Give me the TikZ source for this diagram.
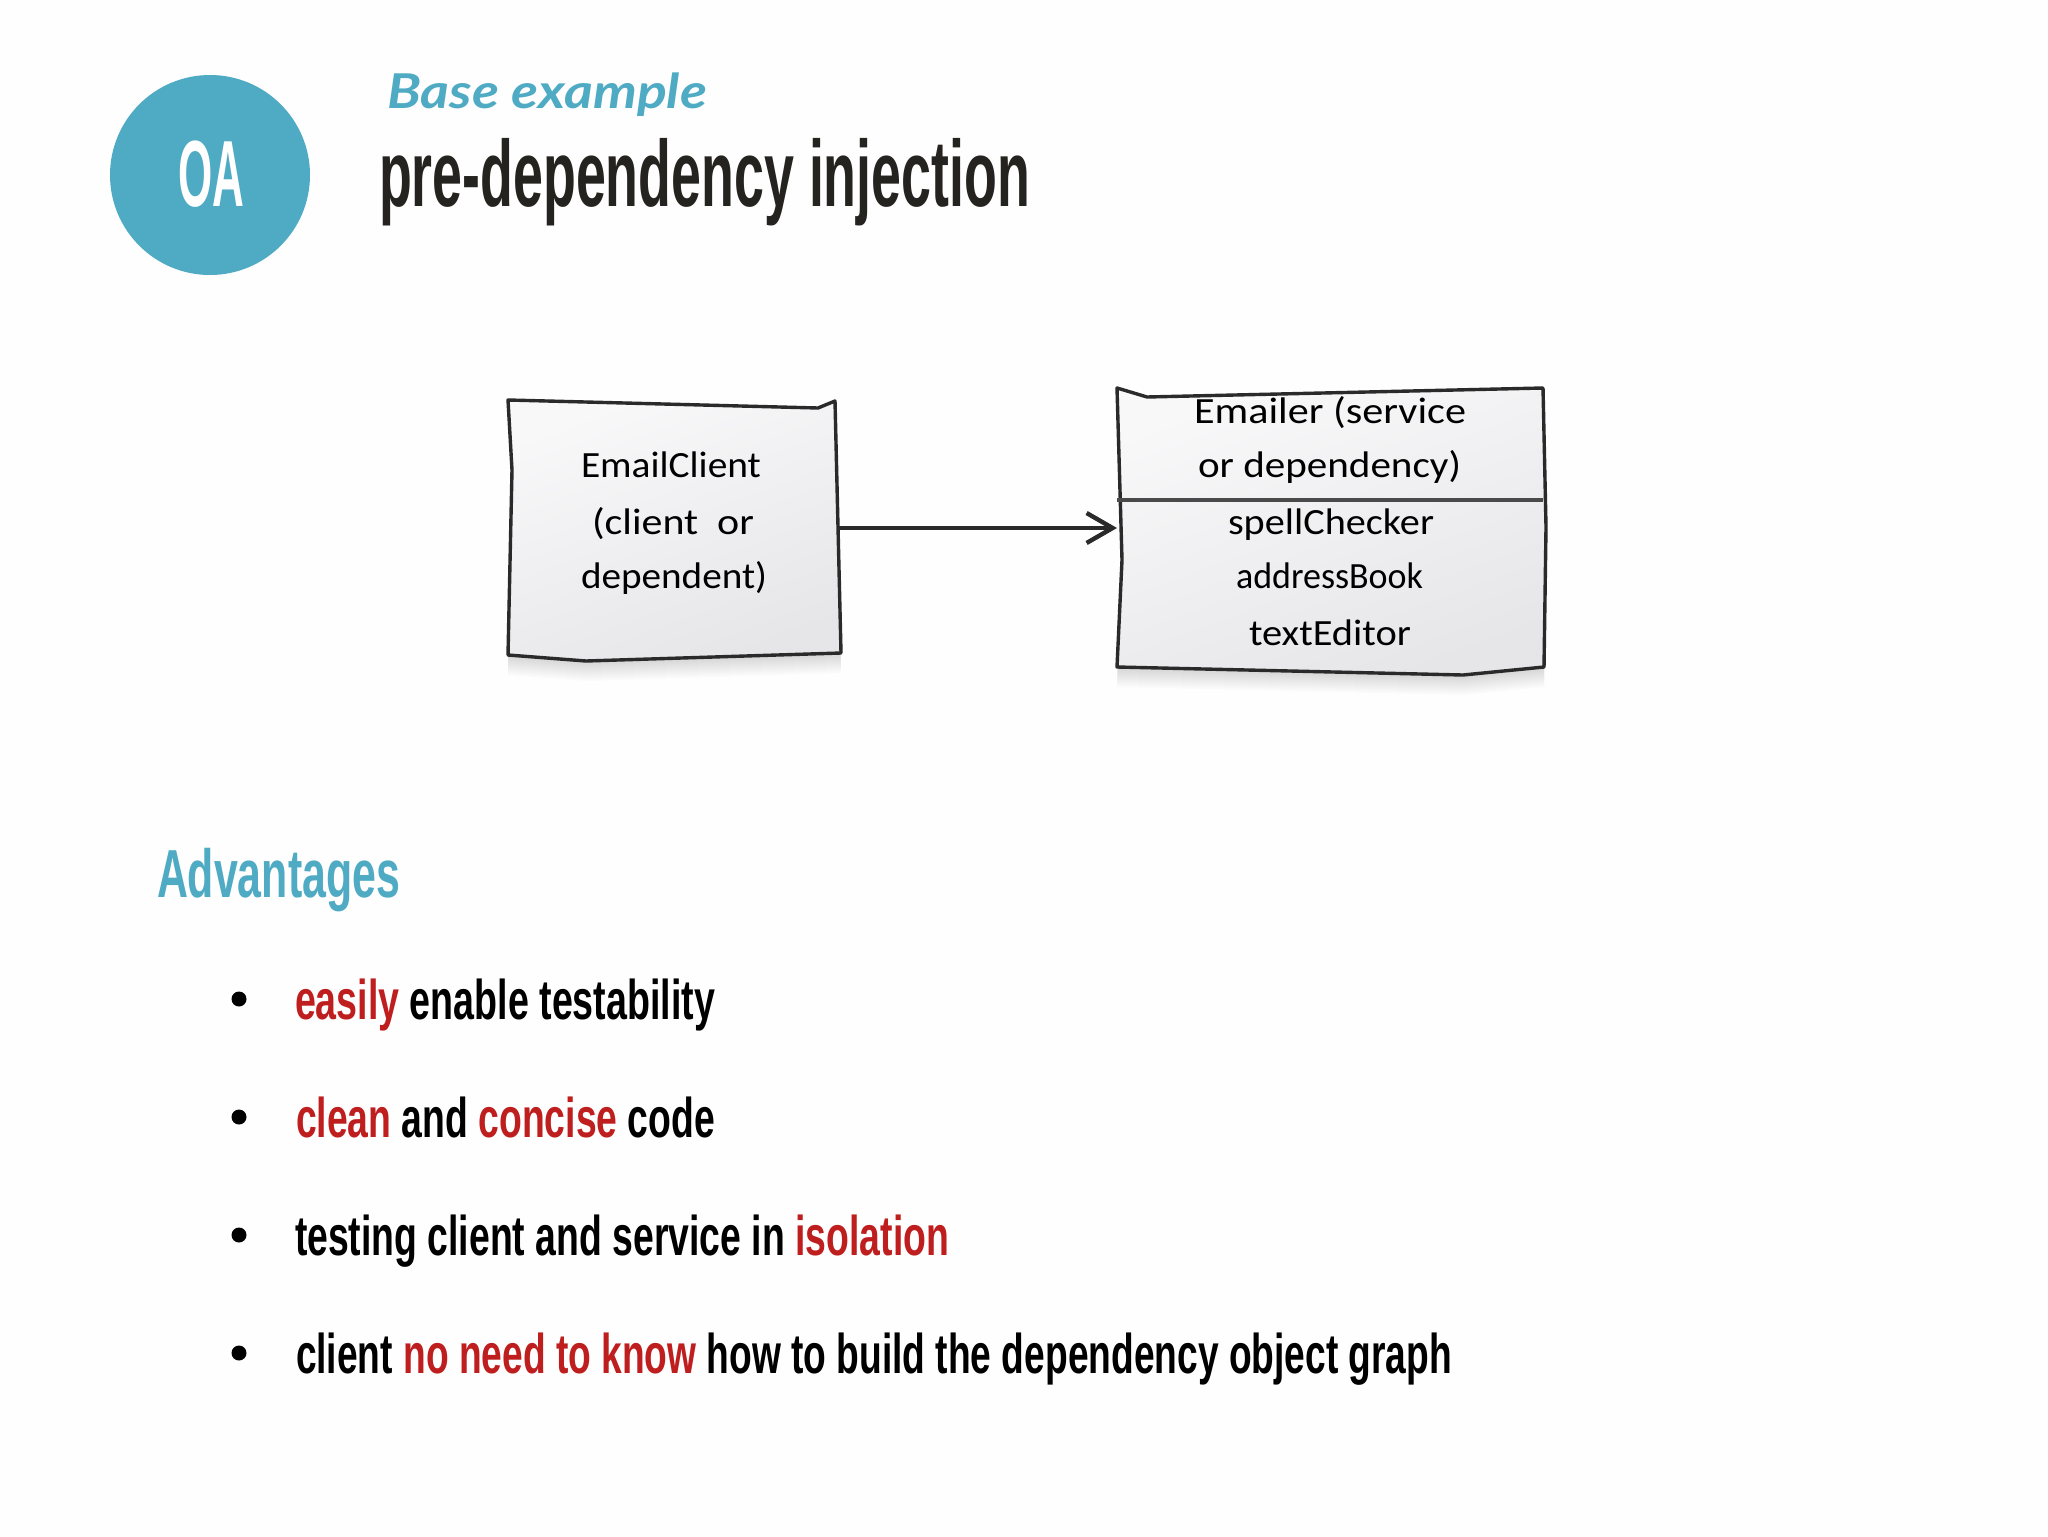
\documentclass[tikz,border=0pt]{standalone}
\usepackage{fontspec}
\usepackage{graphicx}
\usetikzlibrary{arrows.meta}
\setmainfont{Liberation Sans}
\newfontfamily\lato{Lato}
\newfontfamily\hand{Carlito}
\definecolor{teal1}{HTML}{4FABC3}
\definecolor{red1}{HTML}{BF1E1E}
\definecolor{ink}{HTML}{24231F}
\definecolor{edge}{HTML}{2A2A2A}
\definecolor{boxA}{HTML}{F8F8F9}
\definecolor{boxB}{HTML}{E6E6E9}
\newcommand{\fitw}[2]{\resizebox{#1pt}{\height}{#2}}
\newcommand{\rd}[1]{\textcolor{red1}{#1}}
\newcommand{\polyA}{(508,400) -- (818,408) -- (835,401) -- (838,527) -- (841,653) -- (586,661) -- (508,655) -- (512,470) -- cycle}
\newcommand{\polyB}{(1117,388) -- (1147,397) -- (1543,388) -- (1546,527) -- (1544,667) -- (1463,675) -- (1117,667) -- (1122,560) -- cycle}
\tikzset{
  txt/.style={inner sep=0pt,outer sep=0pt,anchor=base west},
  hw/.style={inner sep=0pt,outer sep=0pt,anchor=base,text=black,font=\hand\fontsize{18.5}{20}\selectfont},
  bl/.style={txt,font=\bfseries\fontsize{28}{30}\selectfont,text=black},
  dot/.style={circle,fill=black,minimum size=7.5pt,inner sep=0pt},
  sketchbox/.style={draw=edge,line width=1.7pt,line join=round,left color=boxA,right color=boxB,shading angle=20},
  shadowlayer/.style={fill=black,fill opacity=0.014,draw=none},
  anchorbox/.style={rectangle,draw=none,fill=none,inner sep=0pt,outer sep=0pt},
  conn/.style={draw=edge,line width=1.7pt,-{Straight Barb[length=13pt,width=15pt,line width=2.2pt]}}
}
\begin{document}
\begin{tikzpicture}[x=0.5pt,y=-0.5pt]
\useasboundingbox (0,0) rectangle (2048,1536);
\fill[white!99.6!black] (0,0) rectangle (2048,1536);

% header
\node[circle,fill=teal1,minimum size=100pt,inner sep=0pt] (badge) at (210,175) {};
\node[txt,text=white,font=\bfseries\fontsize{47}{50}\selectfont] (badgetext) at (178,206) {\fitw{33}{OA}};
\node[txt,text=teal1,font=\lato\bfseries\itshape\fontsize{24}{26}\selectfont] (kicker) at (387,109) {\fitw{160}{Base example}};
\node[txt,text=ink,font=\bfseries\fontsize{47}{50}\selectfont] (title) at (379,206) {\fitw{325.5}{pre-dependency injection}};

% sketched boxes
\foreach \k in {2,4,...,20}{
  \fill[shadowlayer,shift={(0,\k)}] \polyA;
  \fill[shadowlayer,shift={(0,\k)}] \polyB;
}
\path[sketchbox] \polyA;
\path[sketchbox] \polyB;
\node[anchorbox,minimum width=165pt,minimum height=130pt] (client) at (673,528) {};
\node[anchorbox,minimum width=213pt,minimum height=140pt] (emailer) at (1330,528) {};
\coordinate (divL) at (1117,500);
\coordinate (divR) at (1543,500);
\draw[draw=edge!85!white,line width=2pt] (divL) -- (divR);
\draw[conn] (client.east) -- (emailer.west);

\node[hw] (c1) at (671,477) {\fitw{90}{EmailClient}};
\node[hw] (c2) at (673,534) {\fitw{81}{(client\ \ or}};
\node[hw] (c3) at (674,588) {\fitw{93}{dependent)}};
\node[hw] (e1) at (1330,423) {\fitw{136}{Emailer (service}};
\node[hw] (e2) at (1329.5,477) {\fitw{131.5}{or dependency)}};
\node[hw] (e3) at (1331,534) {\fitw{103}{spellChecker}};
\node[hw] (e4) at (1329.5,588) {\fitw{93.5}{addressBook}};
\node[hw] (e5) at (1330,645) {\fitw{81}{textEditor}};

% advantages
\node[txt,text=teal1,font=\bfseries\fontsize{34}{36}\selectfont] (adv) at (157,897) {\fitw{121.5}{Advantages}};
\node[dot] (b1) at (239,999) {};
\node[dot] (b2) at (239,1117) {};
\node[dot] (b3) at (239,1235) {};
\node[dot] (b4) at (239,1353) {};
\node[bl] (t1) at (295,1019) {\fitw{210}{\rd{easily} enable testability}};
\node[bl] (t2) at (296,1137) {\fitw{209.5}{\rd{clean} and \rd{concise} code}};
\node[bl] (t3) at (295,1255) {\fitw{327}{testing client and service in \rd{isolation}}};
\node[bl] (t4) at (296,1373) {\fitw{578}{client \rd{no need to know} how to build the dependency object graph}};
\end{tikzpicture}
\end{document}
